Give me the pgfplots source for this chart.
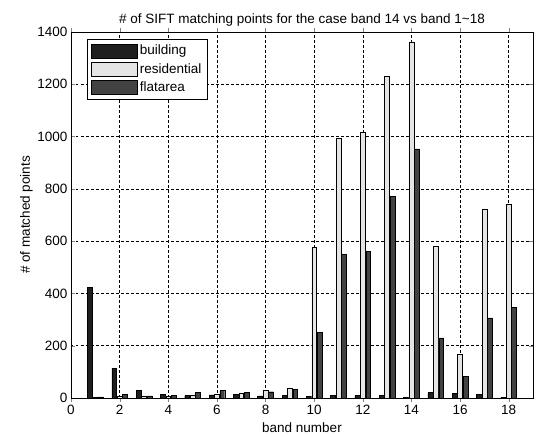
\documentclass[border=0pt]{standalone}
\usepackage{pgfplots}
\pgfplotsset{compat=1.18}
\usepackage{fontspec}
\setmainfont{Liberation Sans}
\definecolor{cbuild}{gray}{0.12}
\definecolor{cres}{gray}{0.9}
\definecolor{cflat}{gray}{0.26}
\begin{document}
\begin{tikzpicture}
\begin{axis}[
    name=ax,
    scale only axis,
    width=462pt, height=366pt,
    xmin=0, xmax=19, ymin=0, ymax=1400,
    xtick={0,2,...,18}, ytick={0,200,...,1400},
    grid=major,
    major grid style={black, dash pattern=on 2.5pt off 2.5pt, line width=0.5pt},
    tick align=inside,
    major tick length=4pt,
    axis line style={black, line width=0.6pt},
    ybar,
    bar width=0.2,
    title={\# of SIFT matching points for the case band 14 vs band 1\textasciitilde 18},
    title style={font=\fontsize{13.5}{15}\selectfont, yshift=-4pt},
    xlabel={band number},
    ylabel={\# of matched points},
    xlabel style={yshift=-1pt},
    ylabel style={yshift=-2pt},
    label style={font=\fontsize{13.5}{15}\selectfont},
    tick label style={font=\fontsize{13.5}{15}\selectfont},
    /pgf/number format/assume math mode=true,
    /pgf/number format/set thousands separator={},
    legend style={at={(0.035,0.981)}, anchor=north west, draw=black, fill=white,
      font=\fontsize{13.5}{15}\selectfont, row sep=3pt, inner sep=4pt},
    legend cell align=left,
    legend image code/.code={\draw[#1, draw=black, line width=0.5pt] (0pt,-7pt) rectangle (46pt,7pt);},
    ]
\addplot[fill=cbuild, draw=black, bar shift=-0.222] coordinates {
 (1,422) (2,113) (3,28) (4,13) (5,9) (6,12) (7,14) (8,8) (9,9)
 (10,7) (11,9) (12,9) (13,9) (14,3) (15,21) (16,17) (17,13) (18,3)};
\addplot[fill=cres, draw=black, bar shift=0] coordinates {
 (1,2) (2,6) (3,8) (4,6) (5,11) (6,16) (7,20) (8,30) (9,37)
 (10,576) (11,995) (12,1017) (13,1231) (14,1362) (15,580) (16,167) (17,723) (18,740)};
\addplot[fill=cflat, draw=black, bar shift=0.222] coordinates {
 (1,4) (2,14) (3,8) (4,10) (5,21) (6,29) (7,21) (8,24) (9,33)
 (10,250) (11,549) (12,561) (13,772) (14,953) (15,230) (16,82) (17,306) (18,347)};
\legend{building, residential, flatarea}
\end{axis}
\path (ax.south west) ++(-71pt,-38pt) coordinate (bl);
\path (ax.south west) ++(465pt,398pt) coordinate (tr);
\useasboundingbox (bl) rectangle (tr);
\end{tikzpicture}
\end{document}
